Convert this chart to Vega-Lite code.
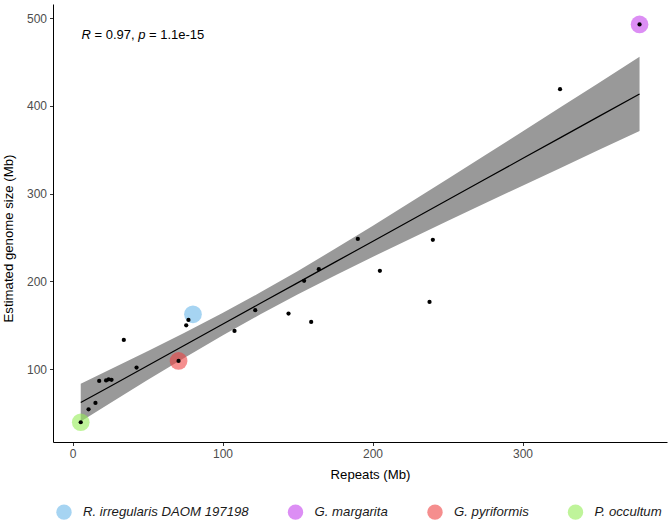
{
  "$schema": "https://vega.github.io/schema/vega-lite/v6.json",
  "width": 614,
  "height": 438,
  "autosize": {"type": "none"},
  "padding": {"left": 53, "top": 4, "right": 5, "bottom": 82},
  "background": "white",
  "config": {
    "font": "Liberation Sans",
    "view": {"stroke": null},
    "axis": {
      "grid": false,
      "domainColor": "#000000",
      "domainWidth": 1,
      "tickColor": "#333333",
      "tickWidth": 1,
      "tickSize": 3.5,
      "labelColor": "#4D4D4D",
      "labelFontSize": 12,
      "labelPadding": 3,
      "titleColor": "#000000",
      "titleFontSize": 13.2,
      "titleFontWeight": "normal"
    }
  },
  "datasets": {
    "pts": [
      {"repeats": 5.5, "size": 39.5},
      {"repeats": 10.7, "size": 54.3},
      {"repeats": 15.3, "size": 61.5},
      {"repeats": 17.8, "size": 86.6},
      {"repeats": 22.4, "size": 87.2},
      {"repeats": 24.1, "size": 88.4},
      {"repeats": 26.0, "size": 87.8},
      {"repeats": 34.2, "size": 133.3},
      {"repeats": 42.7, "size": 101.8},
      {"repeats": 70.7, "size": 109.4},
      {"repeats": 75.8, "size": 150.0},
      {"repeats": 77.3, "size": 156.0},
      {"repeats": 108.0, "size": 143.6},
      {"repeats": 121.8, "size": 167.2},
      {"repeats": 144.0, "size": 163.3},
      {"repeats": 154.4, "size": 200.6},
      {"repeats": 159.1, "size": 153.8},
      {"repeats": 164.2, "size": 213.9},
      {"repeats": 190.2, "size": 248.4},
      {"repeats": 204.9, "size": 212.0},
      {"repeats": 238.0, "size": 176.6},
      {"repeats": 240.2, "size": 247.3},
      {"repeats": 325.0, "size": 419.0},
      {"repeats": 378.0, "size": 492.7}
    ],
    "hl": [
      {"species": "R. irregularis DAOM 197198", "repeats": 80.3, "size": 162.5},
      {"species": "G. margarita", "repeats": 378.0, "size": 492.7},
      {"species": "G. pyriformis", "repeats": 70.7, "size": 109.4},
      {"species": "P. occultum", "repeats": 5.5, "size": 39.5}
    ],
    "band": [
      {"repeats": 5.5, "fit": 61.9, "lo": 40.3, "hi": 83.5},
      {"repeats": 25, "fit": 80.3, "lo": 61.1, "hi": 99.5},
      {"repeats": 50, "fit": 103.9, "lo": 87.5, "hi": 120.3},
      {"repeats": 75, "fit": 127.5, "lo": 113.3, "hi": 141.7},
      {"repeats": 100, "fit": 151.1, "lo": 138.3, "hi": 163.9},
      {"repeats": 125, "fit": 174.7, "lo": 162.2, "hi": 187.2},
      {"repeats": 150, "fit": 198.3, "lo": 185.0, "hi": 211.6},
      {"repeats": 175, "fit": 221.9, "lo": 206.7, "hi": 237.1},
      {"repeats": 200, "fit": 245.5, "lo": 227.8, "hi": 263.2},
      {"repeats": 225, "fit": 269.1, "lo": 248.4, "hi": 289.8},
      {"repeats": 250, "fit": 292.7, "lo": 268.8, "hi": 316.6},
      {"repeats": 275, "fit": 316.3, "lo": 289.0, "hi": 343.7},
      {"repeats": 300, "fit": 339.9, "lo": 309.0, "hi": 370.8},
      {"repeats": 325, "fit": 363.5, "lo": 329.0, "hi": 398.0},
      {"repeats": 350, "fit": 387.1, "lo": 349.0, "hi": 425.2},
      {"repeats": 378, "fit": 413.5, "lo": 371.2, "hi": 455.8}
    ],
    "ann": [
      {"repeats": 6, "size": 476}
    ]
  },
  "encoding": {
    "x": {
      "field": "repeats", "type": "quantitative",
      "scale": {"domain": [-13, 396.3], "nice": false, "zero": false},
      "axis": {"title": "Repeats (Mb)", "values": [0, 100, 200, 300], "titleX": 317, "titleY": 36.5, "titleBaseline": "alphabetic", "titleAnchor": null}
    },
    "y": {
      "field": "size", "type": "quantitative",
      "scale": {"domain": [17, 516], "nice": false, "zero": false},
      "axis": {"title": "Estimated genome size (Mb)", "values": [100, 200, 300, 400, 500], "titleX": -41, "titleY": 234, "titleBaseline": "alphabetic", "titleAngle": -90, "titleAlign": "center"}
    }
  },
  "layer": [
    {
      "data": {"name": "band"},
      "mark": {"type": "area", "color": "#999999", "opacity": 1},
      "encoding": {
        "y": {"field": "lo", "type": "quantitative"},
        "y2": {"field": "hi"}
      }
    },
    {
      "data": {"name": "band"},
      "mark": {"type": "line", "color": "#000000", "strokeWidth": 1.2},
      "encoding": {
        "y": {"field": "fit", "type": "quantitative"}
      }
    },
    {
      "data": {"name": "hl"},
      "mark": {"type": "circle", "size": 314, "opacity": 0.6},
      "encoding": {
        "color": {
          "field": "species", "type": "nominal",
          "scale": {
            "domain": ["R. irregularis DAOM 197198", "G. margarita", "G. pyriformis", "P. occultum"],
            "range": ["#6BB7E9", "#C543ED", "#EE4343", "#94ED57"]
          },
          "legend": {
            "title": null,
            "orient": "none",
            "direction": "horizontal",
            "columns": 4,
            "legendX": 3,
            "legendY": 500,
            "padding": 0,
            "symbolType": "circle",
            "symbolSize": 236,
            "symbolOpacity": 0.6,
            "symbolStrokeWidth": 0,
            "labelFont": "Liberation Sans",
            "labelFontSize": 13.2,
            "labelFontStyle": "italic",
            "labelColor": "#1A1A1A",
            "labelOffset": 11,
            "columnPadding": 38.5,
            "labelLimit": 400
          }
        }
      }
    },
    {
      "data": {"name": "pts"},
      "mark": {"type": "circle", "size": 18, "color": "#000000", "opacity": 1}
    },
    {
      "data": {"name": "ann"},
      "mark": {"type": "text", "text": "R", "fontStyle": "italic", "fontSize": 13, "align": "left", "baseline": "alphabetic", "color": "#000000", "font": "Liberation Sans"}
    },
    {
      "data": {"name": "ann"},
      "mark": {"type": "text", "text": "= 0.97,", "fontSize": 13, "align": "left", "baseline": "alphabetic", "dx": 13.0, "color": "#000000", "font": "Liberation Sans"}
    },
    {
      "data": {"name": "ann"},
      "mark": {"type": "text", "text": "p", "fontStyle": "italic", "fontSize": 13, "align": "left", "baseline": "alphabetic", "dx": 56.7, "color": "#000000", "font": "Liberation Sans"}
    },
    {
      "data": {"name": "ann"},
      "mark": {"type": "text", "text": "= 1.1e-15", "fontSize": 13, "align": "left", "baseline": "alphabetic", "dx": 67.5, "color": "#000000", "font": "Liberation Sans"}
    }
  ]
}
